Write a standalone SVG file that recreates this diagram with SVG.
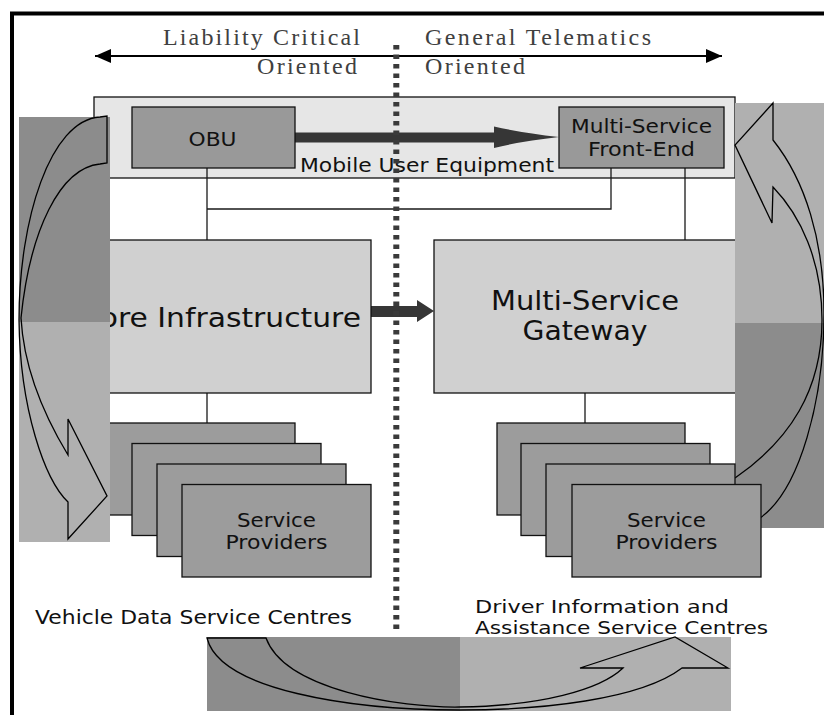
<svg xmlns="http://www.w3.org/2000/svg" width="824" height="715" viewBox="0 0 824 715">
<defs>
<style>
.sans{font-family:"DejaVu Sans","Liberation Sans",sans-serif;fill:#111}
.serif{font-family:"Liberation Serif","DejaVu Serif",serif;fill:#404040;font-size:24px}
.box{stroke:#111;stroke-width:1.3}
.sp{fill:#9c9c9c;stroke:#111;stroke-width:1.3}
.mid{fill:#999}
.light{fill:#d0d0d0}
.dk{fill:#8c8c8c}
.lt{fill:#b0b0b0}
.cv{fill:none;stroke:#000;stroke-width:1.3;stroke-linejoin:miter}
.ln{fill:none;stroke:#1a1a1a;stroke-width:1.3}
</style>
<marker id="ah" viewBox="0 0 16 14" refX="16" refY="7" markerWidth="16" markerHeight="14" markerUnits="userSpaceOnUse" orient="auto-start-reverse">
<path d="M0,0 L16,7 L0,14 Z" fill="#000"/>
</marker>
</defs>
<rect x="0" y="0" width="824" height="715" fill="#fff"/>
<rect x="12" y="13.5" width="820" height="712" fill="none" stroke="#000" stroke-width="4"/>

<g id="orientation">
<line x1="95" y1="56" x2="722" y2="56" stroke="#000" stroke-width="2" marker-start="url(#ah)" marker-end="url(#ah)"/>
<text class="serif" x="163" y="45" textLength="197">Liability Critical</text>
<text class="serif" x="257" y="74" textLength="100">Oriented</text>
<text class="serif" x="425" y="45" textLength="226">General Telematics</text>
<text class="serif" x="425" y="74" textLength="100">Oriented</text>
</g>

<g id="mobile-user-equipment">
<rect class="box" x="94" y="97" width="641" height="81" fill="#e6e6e6"/>
<text class="sans" x="300" y="172" font-size="20" textLength="254" lengthAdjust="spacingAndGlyphs">Mobile User Equipment</text>
</g>

<g id="connectors">
<path class="ln" d="M207,168 V240 M207,209 H611 V168 M685,168 V240 M207,393 V423 M585,393 V423"/>
<path d="M295,132.5 H494 V126.5 Q522,133 559,137 Q522,141 494,148 V142.5 H295 Z" fill="#363636"/>
<path d="M371,306 H417 V300 L434,311 L417,322 V317 H371 Z" fill="#363636"/>
</g>

<g id="obu">
<rect class="box mid" x="132" y="107" width="163" height="61"/>
<text class="sans" x="212.5" y="146" font-size="19" text-anchor="middle" textLength="48" lengthAdjust="spacingAndGlyphs">OBU</text>
</g>

<g id="front-end">
<rect class="box mid" x="559" y="107" width="165" height="61"/>
<text class="sans" x="641.5" y="133" font-size="19" text-anchor="middle" textLength="141" lengthAdjust="spacingAndGlyphs">Multi-Service</text>
<text class="sans" x="641.5" y="156" font-size="19" text-anchor="middle" textLength="107" lengthAdjust="spacingAndGlyphs">Front-End</text>
</g>

<g id="core-infrastructure">
<rect class="box light" x="90" y="240" width="281" height="153"/>
<text class="sans" x="361" y="327" font-size="27" text-anchor="end" textLength="282" lengthAdjust="spacingAndGlyphs">Core Infrastructure</text>
</g>

<g id="gateway">
<rect class="box light" x="434" y="240" width="305" height="153"/>
<text class="sans" x="585" y="310" font-size="27" text-anchor="middle" textLength="188" lengthAdjust="spacingAndGlyphs">Multi-Service</text>
<text class="sans" x="585" y="340" font-size="27" text-anchor="middle" textLength="125" lengthAdjust="spacingAndGlyphs">Gateway</text>
</g>

<g id="service-providers-left">
<rect class="sp" x="106" y="423" width="189" height="92"/>
<rect class="sp" x="132" y="443.5" width="189" height="92"/>
<rect class="sp" x="157" y="464" width="189" height="92.5"/>
<rect class="sp" x="182" y="484.5" width="189" height="92.5"/>
<text class="sans" x="276.5" y="527" font-size="19" text-anchor="middle" textLength="79" lengthAdjust="spacingAndGlyphs">Service</text>
<text class="sans" x="276.5" y="549" font-size="19" text-anchor="middle" textLength="102" lengthAdjust="spacingAndGlyphs">Providers</text>
</g>

<g id="left-cycle">
<rect class="dk" x="19" y="117" width="91" height="205"/>
<rect class="lt" x="19" y="322" width="91" height="220"/>
<path class="cv" d="M100,117 L107,116 L107,163 L100,164 C60,168 30,230 21,318 C24,372 48,422 68,455 L68,419 L107,496 L68,539 L68,502 C45,480 20,410 19,320 C19,220 50,120 100,117 Z"/>
</g>

<g id="right-cycle">
<rect class="lt" x="735" y="103" width="89" height="220"/>
<rect class="dk" x="735" y="323" width="89" height="205"/>
<path class="cv" d="M735,478 C790,440 822,390 822,320 C822,260 800,215 773,187 L772,223 L735,145 L773,103 L773,140 C805,180 824,240 824,313 C824,400 800,490 760,518"/>
</g>

<g id="service-providers-right">
<rect class="sp" x="497" y="423" width="188" height="92"/>
<rect class="sp" x="521" y="443.5" width="189" height="92"/>
<rect class="sp" x="546" y="464" width="189" height="92.5"/>
<rect class="sp" x="572" y="484.5" width="189" height="92.5"/>
<text class="sans" x="666.5" y="527" font-size="19" text-anchor="middle" textLength="79" lengthAdjust="spacingAndGlyphs">Service</text>
<text class="sans" x="666.5" y="549" font-size="19" text-anchor="middle" textLength="102" lengthAdjust="spacingAndGlyphs">Providers</text>
</g>

<g id="centre-labels">
<text class="sans" x="35" y="624" font-size="20" textLength="317" lengthAdjust="spacingAndGlyphs">Vehicle Data Service Centres</text>
<text class="sans" x="475" y="613" font-size="17.5" textLength="254" lengthAdjust="spacingAndGlyphs">Driver Information and</text>
<text class="sans" x="475" y="634" font-size="17.5" textLength="293" lengthAdjust="spacingAndGlyphs">Assistance Service Centres</text>
</g>

<g id="bottom-cycle">
<rect class="dk" x="207" y="637" width="253" height="74"/>
<rect class="lt" x="460" y="637" width="271" height="74"/>
<path class="cv" d="M207,638 L266,638 C285,690 400,708 460,707 C540,706 600,690 623,668 L580,668 L675,637 L728,668 L682,668 C640,700 540,710 460,710 C350,710 220,690 207,638 Z"/>
</g>

<g id="divider">
<line x1="396.3" y1="45" x2="396.3" y2="633" stroke="#3a3a3a" stroke-width="6" stroke-dasharray="4.5 5"/>
</g>
</svg>
